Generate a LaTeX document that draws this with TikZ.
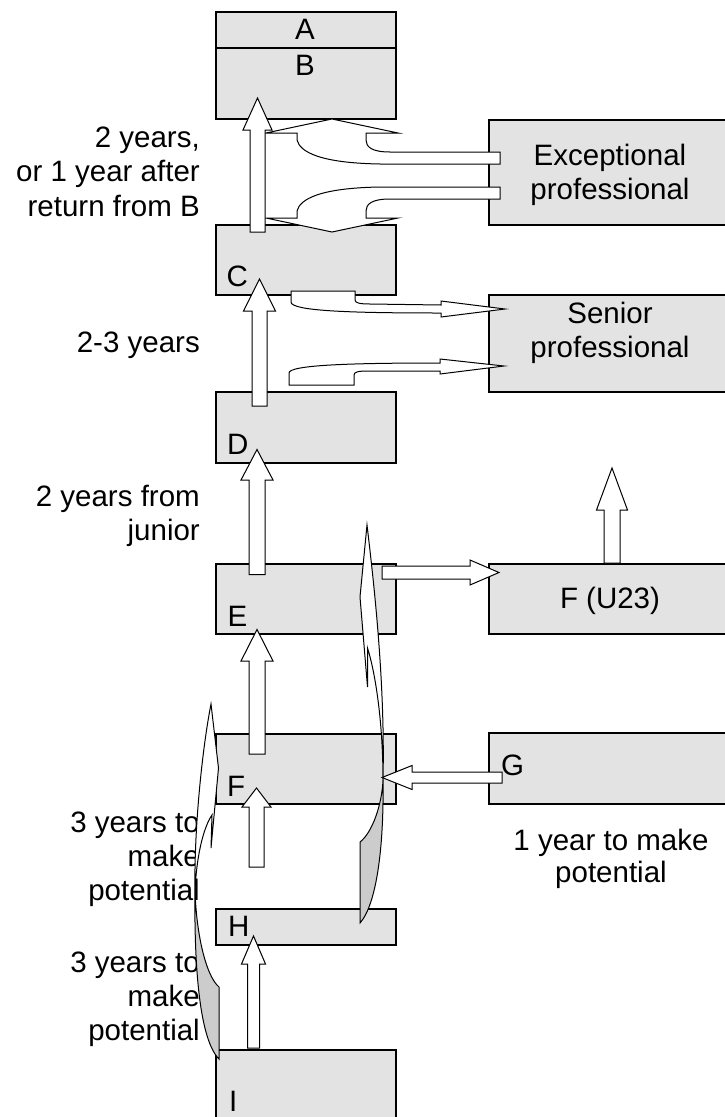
\documentclass[tikz,border=0pt]{standalone}
\usepackage{fontspec}
\setmainfont{Liberation Sans}
\definecolor{boxgray}{RGB}{227,227,227}
\definecolor{backgray}{RGB}{204,204,204}
\tikzset{
  box/.style={draw, line width=1.5pt, fill=boxgray, inner sep=0pt, anchor=north west},
  blockarrow/.style={draw, line width=1pt, fill=white, line join=miter},
  backside/.style={draw, line width=1pt, fill=backgray, line join=miter},
  txt/.style={inner sep=0pt, font=\fontsize{29.5}{34}\selectfont},
}
% cx, shaft half width, head half width, bottom y, head base y, tip y
\newcommand{\vblock}[6]{%
  \draw[blockarrow] ({#1-#2},#4) -- ({#1-#2},#5) -- ({#1-#3},#5) -- (#1,#6)
    -- ({#1+#3},#5) -- ({#1+#2},#5) -- ({#1+#2},#4) -- cycle;}
% cy, shaft half width, head half width, start x, head base x, tip x
\newcommand{\hblock}[6]{%
  \draw[blockarrow] (#4,{#1-#2}) -- (#5,{#1-#2}) -- (#5,{#1-#3}) -- (#6,#1)
    -- (#5,{#1+#3}) -- (#5,{#1+#2}) -- (#4,{#1+#2}) -- cycle;}
\begin{document}
\begin{tikzpicture}[x=1pt,y=-1pt]
\useasboundingbox (0,0) rectangle (724,1117);

% ---------- boxes ----------
\node[box, minimum width=180pt, minimum height=36pt] (Abox) at (215,11) {};
\node[box, minimum width=180pt, minimum height=71pt] (Bbox) at (215,47) {};
\node[box, minimum width=180pt, minimum height=70pt] (Cbox) at (215,224) {};
\node[box, minimum width=180pt, minimum height=71pt] (Dbox) at (215,391) {};
\node[box, minimum width=180pt, minimum height=70pt] (Ebox) at (215,563) {};
\node[box, minimum width=180pt, minimum height=70pt] (Fbox) at (215,733) {};
\node[box, minimum width=180pt, minimum height=36pt] (Hbox) at (215,908) {};
\node[box, minimum width=180pt, minimum height=80pt] (Ibox) at (215,1049) {};
\node[box, minimum width=244pt, minimum height=105pt] (Xbox) at (488,119) {};
\node[box, minimum width=244pt, minimum height=97pt] (Sbox) at (488,294) {};
\node[box, minimum width=244pt, minimum height=70pt] (Ubox) at (488,563) {};
\node[box, minimum width=244pt, minimum height=71pt] (Gbox) at (488,732) {};

% ---------- texts in boxes ----------
\node[txt, anchor=base] (tA) at (305,39) {A};
\node[txt, anchor=base] (tB) at (305,75) {B};
\node[txt, anchor=base west] (tC) at (226.5,286) {C};
\node[txt, anchor=base west] (tD) at (227,454) {D};
\node[txt, anchor=base west] (tE) at (227.5,626) {E};
\node[txt, anchor=base west] (tF) at (227,796) {F};
\node[txt, anchor=base west] (tH) at (228,936) {H};
\node[txt, anchor=base west] (tI) at (229,1111) {I};
\node[txt, anchor=base west] (tG) at (501,775) {G};
\node[txt, anchor=base] (tX1) at (610,165) {Exceptional};
\node[txt, anchor=base] (tX2) at (610,199) {professional};
\node[txt, anchor=base] (tS1) at (610,323) {Senior};
\node[txt, anchor=base] (tS2) at (610,357) {professional};
\node[txt, anchor=base] (tU) at (610,608) {F (U23)};
\node[txt, anchor=base] (tG1) at (611,850) {1 year to make};
\node[txt, anchor=base] (tG2) at (611,882) {potential};

% ---------- left labels ----------
\node[txt, anchor=base east] (l1) at (200,147) {2 years,};
\node[txt, anchor=base east] (l2) at (200,181) {or 1 year after};
\node[txt, anchor=base east] (l3) at (200,216) {return from B};
\node[txt, anchor=base east] (l4) at (200,352) {2-3 years};
\node[txt, anchor=base east] (l5) at (200,506) {2 years from};
\node[txt, anchor=base east] (l6) at (200,540) {junior};
\node[txt, anchor=base east] (l7) at (200,832) {3 years to};
\node[txt, anchor=base east] (l8) at (200,866) {make};
\node[txt, anchor=base east] (l9) at (200,900) {potential};
\node[txt, anchor=base east] (l10) at (200,972) {3 years to};
\node[txt, anchor=base east] (l11) at (200,1006) {make};
\node[txt, anchor=base east] (l12) at (200,1040) {potential};

% ---------- curved arrows Exceptional <-> B / C ----------
\draw[blockarrow] (500,152) -- (390,152) .. controls (372,152) and (366,147) .. (366,140)
  -- (366,133) -- (398,133) -- (332,119) -- (266,133) -- (297,133) -- (297,140)
  .. controls (300,152) and (320,163) .. (380,164) -- (500,164) -- cycle;
\draw[blockarrow] (500,199) -- (390,199) .. controls (372,199) and (366,204) .. (366,211)
  -- (366,218) -- (398,218) -- (332,232) -- (266,218) -- (297,218) -- (297,211)
  .. controls (300,199) and (320,188) .. (380,187) -- (500,187) -- cycle;

% ---------- curved arrows C / D -> Senior ----------
\draw[blockarrow] (291,291) -- (355,291) -- (355,300) .. controls (355,303) and (360,304) .. (370,304)
  -- (441,305) -- (441,301) -- (505,309) -- (441,317) -- (441,313)
  .. controls (350,313) and (291,311) .. (291,302) -- cycle;
\draw[blockarrow] (289,385) -- (354,385) -- (354,375) .. controls (354,372) and (358,371) .. (368,371)
  -- (440,371) -- (440,374) -- (504,366) -- (440,359) -- (440,363)
  .. controls (350,363) and (289,365) .. (289,373) -- cycle;

% ---------- straight block arrows ----------
\vblock{257.5}{7.5}{14.5}{232}{130}{98}
\vblock{259.5}{7.5}{16}{406}{311}{279}
\vblock{257}{8}{16}{574.5}{480}{449.5}
\vblock{257}{8}{16}{754}{661}{629.5}
\vblock{256.5}{7.5}{14.5}{867}{807}{788}
\vblock{253.5}{6}{12}{1048}{964}{936}
\vblock{612}{8}{15.5}{563}{510}{468}
\hblock{572.5}{6.5}{12.5}{382}{470}{499}
\hblock{777.5}{5.5}{12}{502}{412}{382}

% ---------- long curved arrow H -> E (right) ----------
\draw[backside] (360,842) -- (360,923) .. controls (376,905) and (384,850) .. (383,780)
  .. controls (382,805) and (372,833) .. (360,842) -- cycle;
\draw[blockarrow] (367,525) -- (360,597) -- (367.5,687) -- (367.5,648)
  .. controls (376,675) and (383,725) .. (383,780)
  .. controls (385,690) and (376,600) .. (367,525) -- cycle;

% ---------- long curved arrow I -> F (left) ----------
\draw[backside] (219,987) -- (219,1059) .. controls (200,1040) and (194,970) .. (195,890)
  .. controls (196,930) and (205,975) .. (219,987) -- cycle;
\draw[blockarrow] (211,704) -- (218.5,768) -- (211,848) -- (212,815)
  .. controls (205,825) and (197,850) .. (195,890)
  .. controls (194,830) and (202,750) .. (211,704) -- cycle;
\end{tikzpicture}
\end{document}
